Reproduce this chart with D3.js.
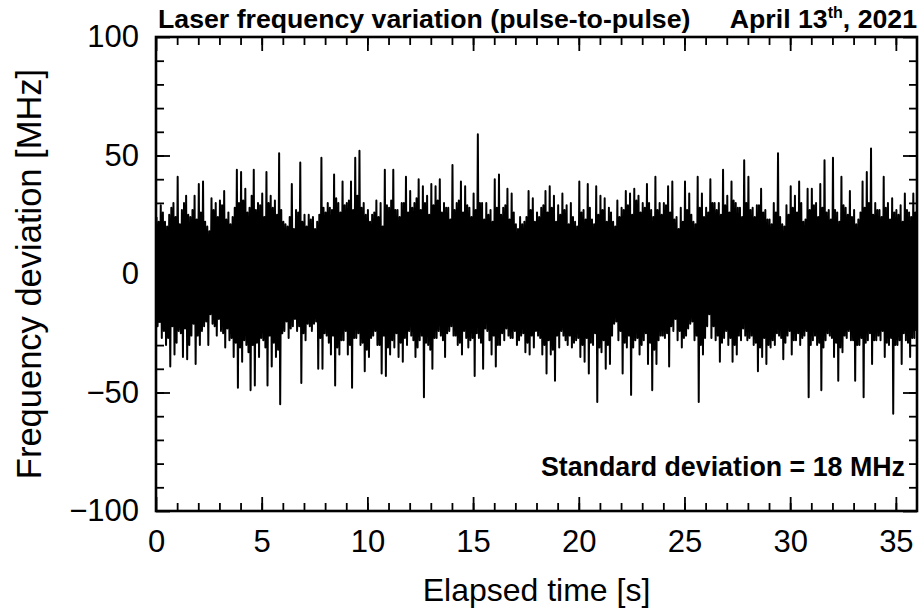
<!DOCTYPE html>
<html>
<head>
<meta charset="utf-8">
<script src="https://cdn.jsdelivr.net/npm/d3@7"></script>
<style>
  html, body { margin: 0; padding: 0; background: #fff; }
  svg text { font-family: "Liberation Sans", Arial, Helvetica, sans-serif; fill: #000; }
</style>
</head>
<body>
<div id="container"></div>
<script>
// bin width of the envelope reading [s]
const binWidth = 0.2

// largest upward excursion of the trace in each 0.2 s bin [MHz]
const peakHigh = [
  24, 29, 22, 25, 30, 41, 27, 33, 24, 33, 38, 39, 20, 32, 30, 31, 35, 26, 24, 44,
  43, 36, 28, 44, 30, 34, 43, 33, 31, 51, 22, 20, 38, 27, 47, 25, 25, 24, 22, 49,
  26, 28, 42, 30, 39, 30, 39, 49, 52, 30, 27, 25, 31, 30, 44, 28, 44, 27, 30, 41,
  35, 30, 40, 37, 33, 38, 37, 40, 30, 28, 46, 30, 39, 37, 28, 34, 59, 30, 30, 27,
  40, 42, 28, 36, 34, 21, 24, 22, 35, 32, 26, 28, 35, 37, 33, 29, 34, 29, 30, 22,
  39, 27, 38, 23, 37, 33, 32, 28, 22, 31, 28, 35, 34, 36, 33, 30, 38, 27, 41, 30,
  30, 37, 39, 24, 28, 39, 34, 22, 41, 34, 28, 40, 30, 30, 44, 33, 39, 30, 28, 48,
  41, 28, 29, 36, 27, 23, 30, 51, 21, 29, 37, 33, 39, 22, 36, 36, 30, 38, 48, 27,
  49, 26, 41, 28, 35, 27, 23, 39, 43, 53, 30, 27, 41, 30, 32, 27, 29, 34, 26, 34
]

// largest downward excursion of the trace in each 0.2 s bin [MHz]
const peakLow = [
  -22, -27, -30, -39, -34, -24, -35, -36, -26, -38, -30, -22, -30, -21, -26, -24, -31, -28, -35, -48,
  -37, -30, -49, -47, -35, -28, -47, -39, -35, -55, -24, -27, -22, -24, -46, -28, -22, -21, -40, -40,
  -26, -34, -47, -34, -28, -34, -48, -27, -30, -41, -35, -26, -30, -42, -43, -34, -31, -35, -37, -30,
  -26, -35, -28, -52, -30, -40, -27, -26, -35, -24, -26, -30, -34, -27, -28, -43, -27, -40, -24, -34,
  -39, -30, -28, -26, -27, -30, -26, -33, -34, -31, -26, -34, -42, -34, -45, -31, -26, -30, -31, -28,
  -35, -37, -42, -30, -54, -33, -40, -38, -21, -28, -42, -31, -51, -28, -34, -28, -38, -49, -38, -26,
  -27, -39, -24, -28, -31, -26, -21, -28, -54, -34, -22, -27, -28, -37, -27, -30, -37, -34, -28, -26,
  -27, -30, -41, -35, -38, -31, -30, -26, -36, -26, -34, -28, -30, -26, -52, -28, -30, -49, -28, -26,
  -35, -45, -33, -27, -28, -45, -30, -52, -28, -38, -28, -28, -35, -30, -59, -30, -38, -28, -35, -27
]

// smaller upward teeth between the peaks, one per bin [MHz]
const midHigh = [
  22, 26, 20, 28, 24, 21, 30, 25, 27, 23, 26, 22, 18, 27, 24, 29, 23, 21, 28, 30,
  31, 26, 33, 27, 29, 24, 30, 28, 25, 27, 21, 24, 19, 26, 22, 20, 23, 19, 25, 28,
  30, 27, 32, 26, 29, 31, 27, 33, 28, 25, 22, 26, 24, 20, 29, 31, 27, 24, 30, 26,
  28, 32, 27, 30, 25, 29, 31, 26, 28, 23, 27, 31, 26, 29, 24, 27, 30, 23, 25, 22,
  28, 25, 29, 23, 26, 19, 21, 24, 27, 22, 24, 29, 26, 28, 22, 25, 27, 21, 24, 20,
  26, 23, 28, 21, 25, 27, 22, 26, 20, 24, 27, 29, 25, 31, 26, 28, 30, 24, 27, 25,
  29, 26, 23, 19, 22, 27, 25, 21, 28, 24, 26, 30, 27, 25, 29, 26, 31, 28, 24, 30,
  27, 24, 29, 26, 23, 21, 26, 24, 20, 25, 28, 26, 30, 23, 27, 29, 24, 28, 26, 23,
  27, 22, 29, 25, 24, 21, 26, 28, 30, 25, 27, 24, 28, 23, 26, 25, 22, 27, 24, 26
]

// smaller downward teeth between the peaks, one per bin [MHz]
const midLow = [
  -20, -24, -27, -22, -29, -25, -23, -30, -21, -26, -24, -20, -17, -22, -19, -25, -23, -27, -29, -31,
  -28, -33, -30, -29, -27, -31, -26, -29, -32, -25, -20, -23, -19, -22, -25, -21, -24, -20, -27, -25,
  -29, -26, -31, -28, -24, -30, -27, -25, -29, -32, -27, -24, -30, -26, -31, -28, -25, -29, -27, -24,
  -28, -31, -26, -29, -32, -27, -24, -28, -25, -22, -26, -29, -24, -31, -27, -25, -29, -23, -28, -26,
  -30, -25, -23, -27, -24, -28, -25, -29, -26, -24, -27, -30, -28, -32, -26, -24, -28, -26, -29, -27,
  -30, -27, -29, -25, -31, -28, -30, -26, -20, -24, -29, -26, -31, -27, -30, -25, -29, -32, -28, -26,
  -25, -22, -19, -24, -27, -23, -20, -26, -30, -27, -17, -22, -26, -29, -24, -27, -30, -26, -23, -28,
  -26, -29, -31, -27, -30, -28, -25, -27, -29, -24, -28, -25, -27, -24, -30, -26, -29, -31, -25, -27,
  -29, -31, -26, -24, -28, -30, -27, -29, -25, -28, -26, -24, -29, -27, -30, -28, -25, -29, -27, -24
]

const xTicksMajor = [0, 5, 10, 15, 20, 25, 30, 35]
const yTicksMajor = [-100, -50, 0, 50, 100]
const xTitle = 'Elapsed time [s]'
const yTitle = 'Frequency deviation [MHz]'
const chartTitle = 'Laser frequency variation (pulse-to-pulse)'
const stdNote = 'Standard deviation = 18 MHz'

const W = 920, H = 612
const margin = { top: 37, right: 3, bottom: 101, left: 156 }
const width = W - margin.left - margin.right
const height = H - margin.top - margin.bottom

// trace: four samples per bin, in time order
let trace = []
for (let i = 0; i < peakHigh.length; i++) {
  let t0 = i * binWidth
  trace.push({ t: t0 + 0.025, v: peakHigh[i] })
  trace.push({ t: t0 + 0.075, v: peakLow[i] })
  trace.push({ t: t0 + 0.125, v: midHigh[i] })
  trace.push({ t: t0 + 0.175, v: midLow[i] })
}

const svg = d3.select('#container')
  .append('svg')
  .attr('width', W)
  .attr('height', H)

const g = svg.append('g')
  .attr('transform', `translate(${margin.left} ${margin.top})`)

const x = d3.scaleLinear().domain([0, 36]).range([0, width])
const y = d3.scaleLinear().domain([-100, 100]).range([height, 0])

g.append('defs').append('clipPath').attr('id', 'plotclip')
  .append('rect').attr('width', width).attr('height', height)

const line = d3.line()
  .x(d => x(d.t))
  .y(d => y(d.v))

g.append('path')
  .datum(trace)
  .attr('clip-path', 'url(#plotclip)')
  .attr('d', line)
  .style('fill', 'none')
  .style('stroke', '#000')
  .style('stroke-width', 2.0)
  .style('stroke-linejoin', 'round')

// inward ticks on all four sides
const majorLen = 14, minorLen = 8
function styleAxis(sel) {
  sel.select('.domain').remove()
  sel.selectAll('line').style('stroke', '#000').style('stroke-width', 1.8)
}

g.append('g')
  .attr('transform', `translate(0 ${height})`)
  .call(d3.axisBottom(x).tickValues(d3.range(1, 36)).tickSize(-minorLen).tickFormat(''))
  .call(styleAxis)
g.append('g')
  .attr('transform', `translate(0 ${height})`)
  .call(d3.axisBottom(x).tickValues(xTicksMajor).tickSize(-majorLen).tickPadding(majorLen + 5).tickFormat(d3.format('d')))
  .call(styleAxis)
  .call(a => a.selectAll('text').style('font-size', '31px').attr('dy', '0.72em'))
g.append('g')
  .call(d3.axisTop(x).tickValues(d3.range(1, 36)).tickSize(-minorLen).tickFormat(''))
  .call(styleAxis)
g.append('g')
  .call(d3.axisTop(x).tickValues(xTicksMajor).tickSize(-majorLen).tickFormat(''))
  .call(styleAxis)

const yMinor = d3.range(-90, 100, 10)
g.append('g')
  .call(d3.axisLeft(y).tickValues(yMinor).tickSize(-minorLen).tickFormat(''))
  .call(styleAxis)
g.append('g')
  .call(d3.axisLeft(y).tickValues(yTicksMajor).tickSize(-majorLen).tickPadding(majorLen + 3)
    .tickFormat(d => d < 0 ? '\u2212' + Math.abs(d) : d))
  .call(styleAxis)
  .call(a => a.selectAll('text').style('font-size', '31px'))
g.append('g')
  .attr('transform', `translate(${width} 0)`)
  .call(d3.axisRight(y).tickValues(yMinor).tickSize(-minorLen).tickFormat(''))
  .call(styleAxis)
g.append('g')
  .attr('transform', `translate(${width} 0)`)
  .call(d3.axisRight(y).tickValues(yTicksMajor).tickSize(-majorLen).tickFormat(''))
  .call(styleAxis)

// frame
g.append('rect')
  .attr('width', width)
  .attr('height', height)
  .style('fill', 'none')
  .style('stroke', '#000')
  .style('stroke-width', 2.6)

// axis titles
svg.append('text')
  .attr('x', margin.left + width / 2)
  .attr('y', 601)
  .attr('text-anchor', 'middle')
  .style('font-size', '32px')
  .text(xTitle)

svg.append('text')
  .attr('transform', `translate(41 ${margin.top + height / 2}) rotate(-90)`)
  .attr('text-anchor', 'middle')
  .style('font-size', '34.5px')
  .text(yTitle)

// header
svg.append('text')
  .attr('x', 158)
  .attr('y', 28)
  .style('font-size', '26.7px')
  .style('font-weight', 'bold')
  .text(chartTitle)

const date = svg.append('text')
  .attr('x', 917)
  .attr('y', 28)
  .attr('text-anchor', 'end')
  .style('font-size', '26.7px')
  .style('font-weight', 'bold')
date.append('tspan').text('April 13')
date.append('tspan').attr('dy', -10).style('font-size', '16px').text('th')
date.append('tspan').attr('dy', 10).text(', 2021')

svg.append('text')
  .attr('x', margin.left + width - 12)
  .attr('y', 476)
  .attr('text-anchor', 'end')
  .style('font-size', '26.8px')
  .style('font-weight', 'bold')
  .text(stdNote)
</script>
</body>
</html>
